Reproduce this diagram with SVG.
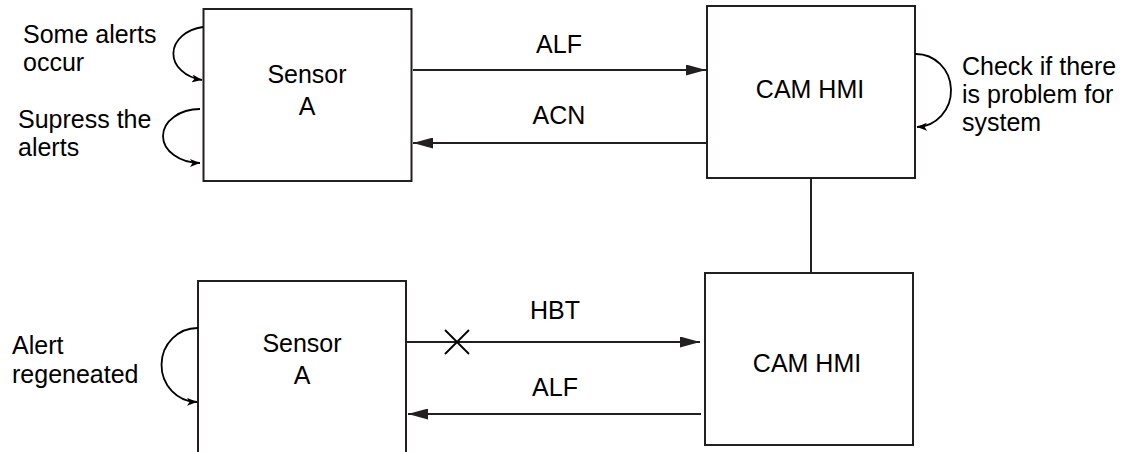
<svg xmlns="http://www.w3.org/2000/svg" width="1130" height="452" viewBox="0 0 1130 452">
  <style>
    .box { fill: #ffffff; stroke: #231f20; stroke-width: 2; }
    .lbl { font-family: "Liberation Sans", Arial, sans-serif; font-size: 25px; fill: #000000; }
    .mid { text-anchor: middle; }
    .conn { fill: none; stroke: #231f20; stroke-width: 2; }
    .loop { fill: none; stroke: #000000; stroke-width: 1.8; }
  </style>
  <defs>
    <marker id="big" viewBox="0 0 20 11" refX="20" refY="5.5" markerWidth="20" markerHeight="11" markerUnits="userSpaceOnUse" orient="auto">
      <path d="M0,0 L20,5.5 L0,11 Z" fill="#231f20"/>
    </marker>
    <marker id="small" viewBox="0 0 10 8" refX="10" refY="4" markerWidth="10" markerHeight="8" markerUnits="userSpaceOnUse" orient="auto">
      <path d="M0,0 L10,4 L0,8 L2.5,4 Z" fill="#000000"/>
    </marker>
  </defs>

  <g id="sensorA_top">
    <rect class="box" x="203.5" y="9" width="208" height="172"/>
    <text class="lbl mid" x="307" y="83">Sensor</text>
    <text class="lbl mid" x="307" y="115">A</text>
  </g>

  <g id="camhmi_top">
    <rect class="box" x="707" y="6" width="208" height="172"/>
    <text class="lbl mid" x="810" y="98">CAM HMI</text>
  </g>

  <g id="sensorA_bottom">
    <rect class="box" x="198" y="281" width="208" height="180"/>
    <text class="lbl mid" x="302" y="352">Sensor</text>
    <text class="lbl mid" x="302" y="384">A</text>
  </g>

  <g id="camhmi_bottom">
    <rect class="box" x="705" y="273" width="208" height="172"/>
    <text class="lbl mid" x="807" y="372">CAM HMI</text>
  </g>

  <g id="notes">
    <text class="lbl" x="23" y="43">Some alerts</text>
    <text class="lbl" x="23" y="71">occur</text>
    <text class="lbl" x="18" y="128">Supress the</text>
    <text class="lbl" x="18" y="156">alerts</text>
    <text class="lbl" x="962" y="75">Check if there</text>
    <text class="lbl" x="962" y="103">is problem for</text>
    <text class="lbl" x="962" y="131">system</text>
    <text class="lbl" x="12" y="354">Alert</text>
    <text class="lbl" x="12" y="383">regeneated</text>
  </g>

  <g id="connectors">
    <line class="conn" x1="413" y1="70" x2="706" y2="70" marker-end="url(#big)"/>
    <text class="lbl mid" x="559" y="53">ALF</text>
    <line class="conn" x1="707" y1="143" x2="413" y2="143" marker-end="url(#big)"/>
    <text class="lbl mid" x="559" y="124">ACN</text>

    <line class="conn" x1="811" y1="178" x2="811" y2="273"/>

    <line class="conn" x1="407" y1="342" x2="700" y2="342" marker-end="url(#big)"/>
    <path class="loop" d="M445,330 L469,354 M469,330 L445,354" stroke-width="1.5"/>
    <text class="lbl mid" x="555" y="319">HBT</text>
    <line class="conn" x1="701" y1="414" x2="408" y2="414" marker-end="url(#big)"/>
    <text class="lbl mid" x="555" y="396">ALF</text>

    <path class="loop" d="M203,27 A36,27 0 0 0 202,80" marker-end="url(#small)"/>
    <path class="loop" d="M200,109 A37,27 0 0 0 200,163" marker-end="url(#small)"/>
    <path class="loop" d="M915,54 A35,36.5 0 0 1 917,127" marker-end="url(#small)"/>
    <path class="loop" d="M198,328 A36,37 0 0 0 197,402" marker-end="url(#small)"/>
  </g>
</svg>
